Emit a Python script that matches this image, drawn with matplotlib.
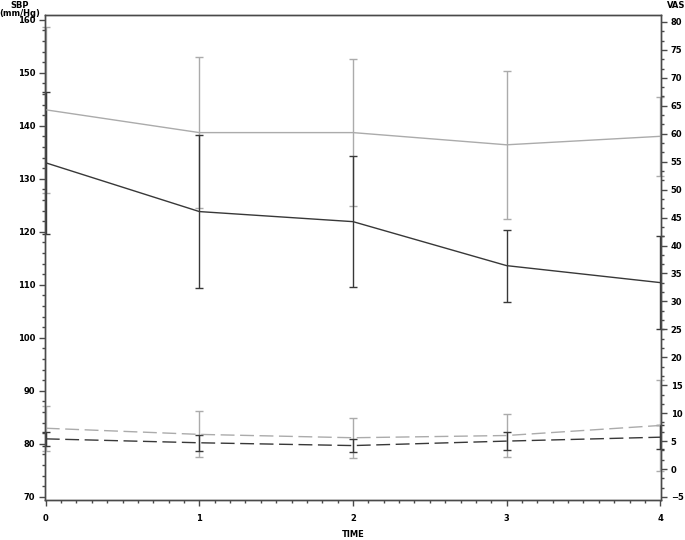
import numpy as np
import matplotlib.pyplot as plt
from matplotlib.ticker import MultipleLocator

# time points
time = [0, 1, 2, 3, 4]

# SBP (left axis), solid lines
sbp_light = [143.0, 138.7, 138.7, 136.4, 138.0]
sbp_light_err = [15.7, 14.3, 13.8, 14.0, 7.5]
sbp_dark = [133.0, 123.8, 121.9, 113.6, 110.4]
sbp_dark_err = [13.4, 14.4, 12.4, 6.8, 8.8]

# VAS (right axis), dashed lines
vas_light = [7.3, 6.2, 5.6, 6.0, 7.8]
vas_light_err = [4.0, 4.1, 3.6, 3.8, 8.2]
vas_dark = [5.4, 4.7, 4.2, 5.0, 5.7]
vas_dark_err = [1.2, 1.4, 1.2, 1.6, 2.1]

dark = '#383838'
light = '#ababab'
axcol = '#4a4a4a'

plt.rcParams['font.family'] = 'DejaVu Sans'
plt.rcParams['font.weight'] = 'bold'

fig = plt.figure(figsize=(6.85, 5.4), dpi=100)
ax = fig.add_axes([45/685, 40/540, 616/685, 485/540])
ax2 = ax.twinx()

ax.errorbar(time, sbp_light, yerr=sbp_light_err, color=light, lw=1.0,
            elinewidth=1.0, capsize=3, capthick=1.0, clip_on=False)
ax.errorbar(time, sbp_dark, yerr=sbp_dark_err, color=dark, lw=1.0,
            elinewidth=1.0, capsize=3, capthick=1.0, clip_on=False)

ax2.errorbar(time, vas_light, yerr=vas_light_err, color=light, lw=1.0,
             elinewidth=1.0, capsize=3, capthick=1.0, dashes=(10, 4), clip_on=False)
ax2.errorbar(time, vas_dark, yerr=vas_dark_err, color=dark, lw=1.0,
             elinewidth=1.0, capsize=3, capthick=1.0, dashes=(10, 4), clip_on=False)

ax.set_xlim(-0.005, 4.005)
ax.set_ylim(69.38, 160.89)
ax2.set_ylim(-5.54, 81.25)

ax.xaxis.set_major_locator(MultipleLocator(1))
ax.xaxis.set_minor_locator(MultipleLocator(0.1))
ax.yaxis.set_major_locator(MultipleLocator(10))
ax.yaxis.set_minor_locator(MultipleLocator(2))
ax2.yaxis.set_major_locator(MultipleLocator(5))
ax2.yaxis.set_minor_locator(MultipleLocator(5/3))

for a in (ax, ax2):
    for s in a.spines.values():
        s.set_color(axcol)
        s.set_linewidth(1.0)
    a.tick_params(which='major', length=4, width=1, color=axcol,
                  labelsize=6, pad=3)
    a.tick_params(which='minor', length=2.5, width=1, color=axcol)

ax.tick_params(axis='x', pad=6)
ax.set_xlabel('TIME', fontsize=6, fontweight='bold', labelpad=5)

fig.text(20/685, 1 - 5/540, 'SBP', fontsize=6, fontweight='bold', ha='center', va='center')
fig.text(20/685, 1 - 13/540, '(mm/Hg)', fontsize=6, fontweight='bold', ha='center', va='center')
fig.text(676/685, 1 - 6/540, 'VAS', fontsize=6, fontweight='bold', ha='center', va='center')

fig.savefig('out.png', dpi=100)
